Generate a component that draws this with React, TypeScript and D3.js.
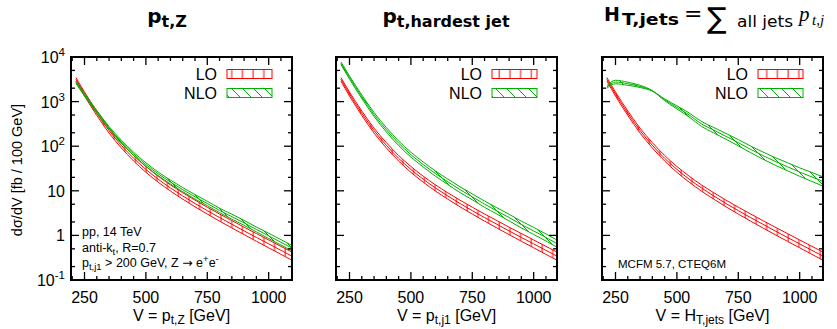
import React from "react";
import * as d3 from "d3";

// ---------- data ----------
const V_BINS = [215, 250, 300, 350, 400, 450, 500, 550, 600, 650, 700, 750, 800, 850, 900, 950, 1000, 1050, 1100];

// LO is identical in all three panels (Z + 1 jet at LO)
const LO_CENTRAL = [3162, 1479, 550, 224, 105, 53.7, 30.2, 18.2, 11.6, 7.67, 5.19, 3.59, 2.51, 1.78, 1.26, 0.9, 0.646, 0.462, 0.331];
const LO_UPPER = [3466, 1640, 617, 254, 120.5, 61.9, 35.1, 21.3, 13.6, 9.05, 6.17, 4.29, 3.02, 2.15, 1.53, 1.1, 0.791, 0.568, 0.409];
const LO_LOWER = [2885, 1334, 490, 197, 91.5, 46.6, 26.0, 15.6, 9.87, 6.5, 4.37, 3.01, 2.09, 1.47, 1.04, 0.738, 0.527, 0.376, 0.268];

const NLO_PTZ_CENTRAL = [2692, 1413, 589, 257, 126, 67.6, 38.9, 24.0, 15.7, 10.6, 7.33, 5.19, 3.63, 2.63, 1.91, 1.36, 0.977, 0.7, 0.501];
const NLO_PTZ_UPPER = [2851, 1496, 631, 276, 137, 73.3, 42.6, 26.3, 17.4, 11.8, 8.22, 5.82, 4.07, 2.99, 2.17, 1.54, 1.12, 0.804, 0.575];
const NLO_PTZ_LOWER = [2542, 1334, 549, 240, 116, 62.4, 35.5, 21.9, 14.2, 9.56, 6.53, 4.63, 3.24, 2.32, 1.68, 1.2, 0.851, 0.61, 0.436];

const NLO_PTJ_CENTRAL = [7244, 3467, 1288, 513, 234, 117, 64.6, 38.9, 24.3, 16.0, 10.6, 7.33, 5.01, 3.55, 2.51, 1.75, 1.26, 0.902, 0.631];
const NLO_PTJ_UPPER = [7766, 3758, 1412, 569, 263, 131, 73.3, 44.2, 27.9, 18.4, 12.3, 8.51, 5.89, 4.17, 2.98, 2.08, 1.51, 1.08, 0.758];
const NLO_PTJ_LOWER = [6758, 3198, 1175, 463, 209, 104, 56.9, 34.3, 21.2, 13.9, 9.13, 6.31, 4.26, 3.02, 2.11, 1.47, 1.05, 0.75, 0.525];

const NLO_HT_CENTRAL = [2140, 2750, 2510, 2190, 1740, 1100, 741, 501, 316, 229, 166, 120, 85.1, 61.7, 45.7, 34.7, 26.3, 20.4, 15.8];
const NLO_HT_EDGE_A = [2290, 3010, 2720, 2320, 1760, 1050, 684, 452, 278, 199, 143, 102, 71.6, 51.3, 37.6, 28.2, 21.1, 16.2, 12.4];
const NLO_HT_EDGE_B = [2000, 2510, 2315, 2070, 1720, 1150, 803, 555, 359, 263, 193, 141, 101, 74.2, 55.6, 42.7, 32.7, 25.7, 20.1];

const X_DOMAIN = [195, 1095];
const Y_DOMAIN = [0.1, 10000];
const X_MAJOR_TICKS = [250, 500, 750, 1000];
const X_MINOR_TICKS = [200, 300, 350, 400, 450, 550, 600, 650, 700, 800, 850, 900, 950, 1050];
const Y_DECADES = [-1, 0, 1, 2, 3, 4];
const Y_MINOR_MULT = [2, 5];
const LEGEND_LABELS = ["LO", "NLO"];

// ---------- layout ----------
const W = 837;
const H = 329;
const PANEL_LEFTS = [71, 336, 602];
const PANEL_W = 221;
const TOP = 57;
const BOTTOM = 280;
const RED = "#ff0000";
const GREEN = "#00b000";
const FONT = "'Liberation Sans', Arial, Helvetica, sans-serif";
const TITLE_FONT = "'DejaVu Sans', sans-serif";

type Band = { c: number[]; a: number[]; b: number[] };

const PANELS: { nlo: Band; xlabelSub: string; id: string }[] = [
  { id: "p1", nlo: { c: NLO_PTZ_CENTRAL, a: NLO_PTZ_UPPER, b: NLO_PTZ_LOWER }, xlabelSub: "t,Z" },
  { id: "p2", nlo: { c: NLO_PTJ_CENTRAL, a: NLO_PTJ_UPPER, b: NLO_PTJ_LOWER }, xlabelSub: "t,j1" },
  { id: "p3", nlo: { c: NLO_HT_CENTRAL, a: NLO_HT_EDGE_A, b: NLO_HT_EDGE_B }, xlabelSub: "T,jets" },
];

const LO_BAND: Band = { c: LO_CENTRAL, a: LO_UPPER, b: LO_LOWER };

function yTickLabel(k: number) {
  if (k === 0) return <tspan>1</tspan>;
  if (k === 1) return <tspan>10</tspan>;
  return (
    <>
      <tspan>10</tspan>
      <tspan dy={-7} fontSize={11.5}>{String(k)}</tspan>
    </>
  );
}

function Panel({ idx }: { idx: number }) {
  const L = PANEL_LEFTS[idx];
  const R = L + PANEL_W;
  const p = PANELS[idx];
  const x = d3.scaleLinear().domain(X_DOMAIN).range([L, R]);
  const y = d3.scaleLog().domain(Y_DOMAIN).range([BOTTOM, TOP]);

  const line = (arr: number[]) =>
    d3
      .line<number>()
      .x((_, i) => x(V_BINS[i]))
      .y((d) => y(d))
      .curve(d3.curveMonotoneX)(arr) || "";
  const area = (a: number[], b: number[]) =>
    d3
      .area<number>()
      .x((_, i) => x(V_BINS[i]))
      .y0((_, i) => y(b[i]))
      .y1((d) => y(d))
      .curve(d3.curveMonotoneX)(a) || "";

  const majorY = Y_DECADES.map((k) => Math.pow(10, k)).filter((v) => v > Y_DOMAIN[0] && v < Y_DOMAIN[1]);
  const minorY: number[] = [];
  Y_DECADES.forEach((k) =>
    Y_MINOR_MULT.forEach((m) => {
      const v = m * Math.pow(10, k);
      if (v > Y_DOMAIN[0] && v < Y_DOMAIN[1]) minorY.push(v);
    })
  );

  const band = (bd: Band, color: string, pat: string) => (
    <g>
      <path d={area(bd.a, bd.b)} fill={`url(#${pat})`} stroke="none" />
      <path d={line(bd.a)} fill="none" stroke={color} strokeWidth={1} />
      <path d={line(bd.c)} fill="none" stroke={color} strokeWidth={1} />
      <path d={line(bd.b)} fill="none" stroke={color} strokeWidth={1} />
    </g>
  );

  const tickStroke = { stroke: "#000", strokeWidth: 1.3 };
  const MAJ = 8;
  const MIN = 4;

  return (
    <g>
      <defs>
        <clipPath id={`clip-${p.id}`}>
          <rect x={L} y={TOP} width={PANEL_W} height={BOTTOM - TOP} />
        </clipPath>
      </defs>
      <g clipPath={`url(#clip-${p.id})`}>
        {band(LO_BAND, RED, "loHatch")}
        {band(p.nlo, GREEN, "nloHatch")}
      </g>

      {X_MAJOR_TICKS.map((v) => (
        <g key={"xM" + v}>
          <line x1={x(v)} x2={x(v)} y1={BOTTOM} y2={BOTTOM - MAJ} {...tickStroke} />
          <line x1={x(v)} x2={x(v)} y1={TOP} y2={TOP + MAJ} {...tickStroke} />
        </g>
      ))}
      {X_MINOR_TICKS.map((v) => (
        <g key={"xm" + v}>
          <line x1={x(v)} x2={x(v)} y1={BOTTOM} y2={BOTTOM - MIN} {...tickStroke} />
          <line x1={x(v)} x2={x(v)} y1={TOP} y2={TOP + MIN} {...tickStroke} />
        </g>
      ))}
      {majorY.map((v) => (
        <g key={"yM" + v}>
          <line x1={L} x2={L + MAJ} y1={y(v)} y2={y(v)} {...tickStroke} />
          <line x1={R} x2={R - MAJ} y1={y(v)} y2={y(v)} {...tickStroke} />
        </g>
      ))}
      {minorY.map((v) => (
        <g key={"ym" + v}>
          <line x1={L} x2={L + MIN} y1={y(v)} y2={y(v)} {...tickStroke} />
          <line x1={R} x2={R - MIN} y1={y(v)} y2={y(v)} {...tickStroke} />
        </g>
      ))}

      <rect x={L} y={TOP} width={PANEL_W} height={BOTTOM - TOP} fill="none" stroke="#000" strokeWidth={2} />

      {X_MAJOR_TICKS.map((v) => (
        <text key={"xl" + v} x={x(v)} y={303} textAnchor="middle" fontFamily={FONT} fontSize={16}>
          {v}
        </text>
      ))}

      {idx === 0 &&
        Y_DECADES.map((k) => (
          <text key={"yl" + k} x={L - 6} y={y(Math.pow(10, k)) + 6} textAnchor="end" fontFamily={FONT} fontSize={16}>
            {yTickLabel(k)}
          </text>
        ))}

      <text x={(L + R) / 2} y={321} textAnchor="middle" fontFamily={FONT} fontSize={16}>
        <tspan>V = {idx === 2 ? "H" : "p"}</tspan>
        <tspan dy={3} fontSize={12}>{p.xlabelSub}</tspan>
        <tspan dy={-3}> [GeV]</tspan>
      </text>

      {LEGEND_LABELS.map((lab, i) => (
        <g key={lab}>
          <text x={L + 146} y={80 + i * 18.5} textAnchor="end" fontFamily={FONT} fontSize={16}>
            {lab}
          </text>
          <rect
            x={L + 156}
            y={69.5 + i * 19}
            width={45}
            height={9}
            fill={`url(#${i === 0 ? "loHatch" : "nloHatch"})`}
            stroke={i === 0 ? RED : GREEN}
            strokeWidth={1}
          />
        </g>
      ))}
    </g>
  );
}

export default function App() {
  return (
    <svg
      width={W}
      height={H}
      viewBox={`0 0 ${W} ${H}`}
      style={{ position: "absolute", left: 0, top: 0, background: "#fff" }}
      xmlns="http://www.w3.org/2000/svg"
    >
      <defs>
        <pattern id="loHatch" patternUnits="userSpaceOnUse" width={10.7} height={10} x={2}>
          <line x1={5} x2={5} y1={0} y2={10} stroke={RED} strokeWidth={1} />
        </pattern>
        <pattern id="nloHatch" patternUnits="userSpaceOnUse" width={11} height={11}>
          <line x1={0} y1={0} x2={11} y2={11} stroke={GREEN} strokeWidth={1} />
          <line x1={-1} y1={10} x2={1} y2={12} stroke={GREEN} strokeWidth={1} />
          <line x1={10} y1={-1} x2={12} y2={1} stroke={GREEN} strokeWidth={1} />
        </pattern>
      </defs>
      <rect x={0} y={0} width={W} height={H} fill="#fff" />

      {/* titles */}
      <text x={167} y={23} textAnchor="middle" fontFamily={TITLE_FONT} fontWeight="bold" fontSize={20}>
        <tspan>p</tspan>
        <tspan dy={4} fontSize={16}>t,Z</tspan>
      </text>
      <text x={446} y={23} textAnchor="middle" fontFamily={TITLE_FONT} fontWeight="bold" fontSize={20}>
        <tspan>p</tspan>
        <tspan dy={4} fontSize={16}>t,hardest jet</tspan>
      </text>
      <text fontFamily={TITLE_FONT}>
        <tspan x={604} y={21} fontWeight="bold" fontSize={19}>H</tspan>
        <tspan x={622} y={25} fontWeight="bold" fontSize={16} textLength={57} lengthAdjust="spacingAndGlyphs">T,jets</tspan>
        <tspan x={684} y={21} fontSize={22}>=</tspan>
        <tspan x={707} y={28} fontSize={29}>∑</tspan>
        <tspan x={737} y={27} fontSize={16} textLength={56} lengthAdjust="spacingAndGlyphs">all jets</tspan>
        <tspan x={799} y={21} fontSize={21} fontStyle="italic" fontFamily="'Liberation Serif', serif">p</tspan>
        <tspan x={812} y={25} fontSize={15} fontStyle="italic" fontFamily="'Liberation Serif', serif">t,j</tspan>
      </text>

      {/* y axis title */}
      <text transform="translate(22,170) rotate(-90)" textAnchor="middle" fontFamily={FONT} fontSize={14.5}>
        dσ/dV [fb / 100 GeV]
      </text>

      {[0, 1, 2].map((i) => (
        <Panel key={i} idx={i} />
      ))}

      {/* annotations */}
      <text x={82} y={236} fontFamily={FONT} fontSize={12.5}>pp, 14 TeV</text>
      <text x={82} y={252} fontFamily={FONT} fontSize={12.5}>
        <tspan>anti-k</tspan>
        <tspan dy={3} fontSize={9.5}>t</tspan>
        <tspan dy={-3}>, R=0.7</tspan>
      </text>
      <text x={82} y={267} fontFamily={FONT} fontSize={12.5}>
        <tspan>p</tspan>
        <tspan dy={3} fontSize={9.5}>t,j1</tspan>
        <tspan dy={-3}> &gt; 200 GeV, Z </tspan>
        <tspan fontFamily="'DejaVu Sans', sans-serif">→</tspan>
        <tspan> e</tspan>
        <tspan dy={-5} fontSize={9.5}>+</tspan>
        <tspan dy={5}>e</tspan>
        <tspan dy={-5} fontSize={9.5}>-</tspan>
      </text>
      <text x={618} y={268} fontFamily={FONT} fontSize={11.5}>MCFM 5.7, CTEQ6M</text>
    </svg>
  );
}
